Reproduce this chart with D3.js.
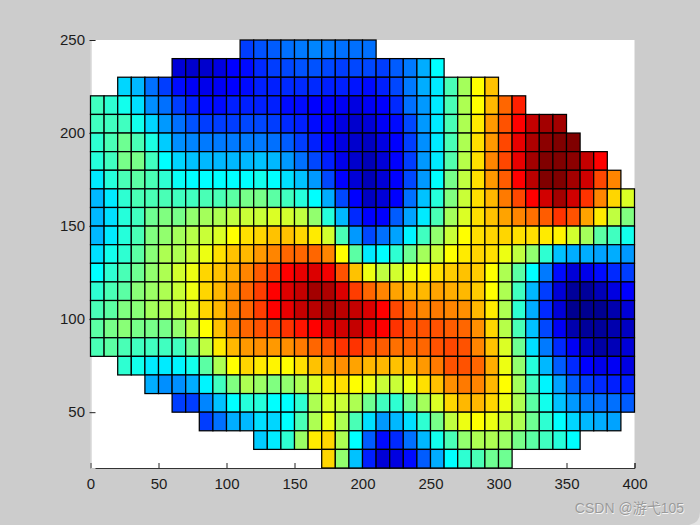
<!DOCTYPE html>
<html><head><meta charset="utf-8">
<script src="https://cdn.jsdelivr.net/npm/d3@7/dist/d3.min.js"></script>
<style>html,body{margin:0;padding:0;background:#fff}svg{display:block}</style>
</head><body><svg id="c" width="700" height="525"></svg>
<script>
const xTicks = [0,50,100,150,200,250,300,350,400];
const yTicks = [50,100,150,200,250];
const cellSize = 10;
const rowBottoms = [240,230,220,210,200,190,180,170,160,150,140,130,120,110,100,90,80,70,60,50,40,30,20];
const rowFirstX = [110,60,20,0,0,0,0,0,0,0,0,0,0,0,0,0,0,20,40,60,80,120,170];
const row00 = [17,19,20,22,23,24,23,22,22,22];
const row01 = [7,6,6,8,11,12,15,17,18,19,19,18,17,18,18,17,20,23,28,36];
const row02 = [32,29,22,17,12,10,9,10,11,12,14,14,15,15,15,14,14,13,12,14,18,23,28,34,44,54,64,70];
const row03 = [43,41,38,33,25,22,17,14,12,12,14,14,14,14,12,12,11,11,10,8,10,11,15,22,26,34,44,55,64,71,79,86];
const row04 = [43,43,43,38,32,26,22,19,17,17,17,18,18,17,15,14,12,11,8,6,7,10,12,18,26,34,44,55,66,74,81,89,94,97,97];
const row05 = [41,44,48,44,39,31,25,24,23,23,23,23,23,22,20,17,14,11,8,6,5,8,11,17,25,34,44,55,67,74,82,91,96,99,100,100];
const row06 = [40,43,49,49,43,36,32,30,29,29,29,29,30,29,26,22,18,14,9,6,4,7,11,17,26,34,45,56,67,76,82,91,97,100,100,99,94,89];
const row07 = [34,40,44,46,44,41,37,36,36,36,36,36,38,36,33,30,26,18,11,7,4,7,11,18,26,36,49,57,67,74,80,89,95,100,100,97,93,82,76];
const row08 = [29,34,41,44,44,44,43,43,44,44,46,49,49,46,43,40,36,28,18,11,5,7,11,22,30,40,50,58,67,71,77,82,89,93,97,93,84,76,68,60];
const row09 = [29,33,40,43,48,50,49,52,54,55,57,58,58,60,59,57,52,40,29,15,11,11,20,27,34,44,54,60,67,70,73,76,78,80,84,81,73,66,57,50];
const row10 = [29,34,40,44,50,52,54,56,58,60,64,67,68,70,70,68,66,59,44,26,18,22,27,35,43,52,58,64,67,68,68,67,67,66,65,59,54,46,43,38];
const row11 = [33,38,41,46,51,55,55,58,62,67,70,71,74,76,79,79,79,76,64,46,34,36,41,48,54,58,64,66,68,67,62,57,52,41,30,28,28,27,28,26];
const row12 = [36,41,44,48,52,55,59,62,68,70,72,76,80,83,89,91,92,90,81,70,62,57,59,62,64,67,69,70,69,64,55,46,36,23,12,7,9,12,15,17];
const row13 = [41,44,46,51,53,55,58,62,68,71,75,79,83,89,92,94,97,96,92,83,79,76,73,71,71,73,72,71,69,64,55,43,29,17,7,1,1,4,8,11];
const row14 = [44,46,50,51,54,55,57,60,68,71,76,79,83,89,91,94,95,97,95,94,92,89,82,78,76,77,76,75,71,66,55,41,28,15,7,0,0,0,3,7];
const row15 = [46,49,51,49,49,49,52,57,64,70,76,79,81,82,84,87,89,92,93,94,91,89,84,81,81,81,80,79,75,68,56,44,30,18,10,3,1,1,3,5];
const row16 = [44,46,44,43,43,43,43,48,57,66,71,74,75,74,75,77,79,81,84,84,81,80,78,79,79,81,82,81,76,70,60,48,33,23,15,10,5,2,4,7];
const row17 = [41,38,34,34,35,38,46,55,64,68,66,65,64,67,70,73,75,73,71,71,70,71,74,77,81,81,79,72,62,52,40,29,20,15,11,9,10,8];
const row18 = [28,25,25,28,35,43,50,55,53,50,52,55,60,66,67,64,62,58,58,62,67,70,75,77,76,71,64,54,43,35,27,20,17,15,14,14];
const row19 = [17,17,24,30,36,40,40,36,36,41,55,60,58,55,48,43,41,48,54,60,68,71,71,68,62,55,46,38,30,26,23,22,22,20];
const row20 = [17,22,28,29,33,32,36,44,55,62,55,44,33,26,29,33,41,49,57,62,64,62,58,55,48,41,36,32,29,28,27];
const row21 = [31,34,41,53,66,68,55,36,20,12,15,22,29,38,44,52,55,55,53,49,46,43,40,36];
const row22 = [68,52,30,14,7,8,12,20,28,36,41,44,48,48];
const rows = [row00,row01,row02,row03,row04,row05,row06,row07,row08,row09,row10,row11,row12,row13,row14,row15,row16,row17,row18,row19,row20,row21,row22];

const svg = d3.select("#c");
const x = d3.scaleLinear().domain([0,400]).range([90.5,634.5]);
const y = d3.scaleLinear().domain([20,250]).range([468,40]);
const jet = d3.scaleLinear()
  .domain([0,11,36,50,64,89,100])
  .range(["#000090","#0000ff","#00ffff","#80ff80","#ffff00","#ff0000","#800000"])
  .clamp(true);

svg.append("rect").attr("width",700).attr("height",525).attr("fill","#cccccc");
svg.append("path").attr("d","M689,525 Q700,523 700,512 L700,525 Z").attr("fill","#e4e4e4");
svg.append("rect").attr("x",x(0)).attr("y",y(250)).attr("width",x(400)-x(0)).attr("height",y(20)-y(250)).attr("fill","#ffffff");

const xAxis = d3.axisBottom(x).tickValues(xTicks).tickSize(-5).tickPadding(10).tickFormat(d3.format("d"));
const yAxis = d3.axisLeft(y).tickValues(yTicks).tickSize(-5).tickPadding(5.5).tickFormat(d3.format("d"));
const gx = svg.append("g").attr("transform",`translate(0,${y(20)})`).call(xAxis);
const gy = svg.append("g").attr("transform",`translate(${x(0)},0)`).call(yAxis);
gx.select(".domain").attr("stroke","#333");
gy.select(".domain").attr("stroke","#c4c4c4");
[gx,gy].forEach(g=>{
  g.selectAll(".tick line").attr("stroke","#222");
  g.selectAll("text").attr("fill","#1c1c1c").attr("font-family","'Liberation Sans',Arial,sans-serif").attr("font-size",15);
});
gy.selectAll(".tick line").attr("x1",-1);

const cells = [];
rows.forEach((vals,r)=>vals.forEach((v,i)=>cells.push({x0:rowFirstX[r]+i*cellSize,y0:rowBottoms[r],v})));
svg.append("g").selectAll("rect").data(cells).join("rect")
  .attr("x",d=>x(d.x0)).attr("y",d=>y(d.y0+cellSize))
  .attr("width",d=>x(d.x0+cellSize)-x(d.x0)).attr("height",d=>y(d.y0)-y(d.y0+cellSize))
  .attr("fill",d=>jet(d.v)).attr("stroke","#000").attr("stroke-width",1.25);

const mark = svg.append("g").attr("font-family","'Liberation Sans','Noto Sans CJK SC',sans-serif").attr("font-size",14).attr("text-anchor","end");
mark.append("text").attr("x",684.7).attr("y",513.7).attr("fill","#f4f4f4").text("CSDN @游弋105");
mark.append("text").attr("x",684).attr("y",513).attr("fill","#9a9a9a").text("CSDN @游弋105");
</script></body></html>
